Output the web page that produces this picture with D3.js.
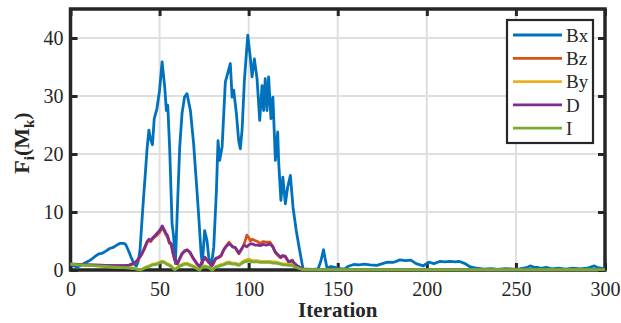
<!DOCTYPE html>
<html>
<head>
<meta charset="utf-8">
<script src="https://cdn.jsdelivr.net/npm/d3@7"></script>
<style>
html,body{margin:0;padding:0;background:#fff;}
svg{display:block;}
svg text{font-family:"Liberation Serif","Times New Roman",serif !important;fill:#262626;}
</style>
</head>
<body>
<svg id="chart" width="621" height="323"></svg>
<script>
// ---- data ----
const seriesNames = ["Bx","Bz","By","D","I"];
const seriesColors = ["#0072BD","#D95319","#EDB120","#7E2F8E","#77AC30"];
const xTicks = [0,50,100,150,200,250,300];
const yTicks = [0,10,20,30,40];

const bxIter = [0,2,4,6,8,10,12,14,16,18,20,22,24,26,28,30,31,32,33,34,35,36,37,38,39,40,41,42,43,44,45,46,47,48.5,50,51.4,52.9,53.8,54.6,55.7,57,57.9,58.9,59.8,61.3,62.6,64,65.4,67.3,69.1,70.7,72,73.3,74,75.3,76.6,77.6,78.9,80.4,81.9,82.8,83.7,85.1,86.9,88.2,89.7,90.7,91.6,93.1,94.4,95.3,96.3,97.6,99.5,100.9,101.9,103.2,104.7,106.2,107.5,108.4,109.3,110.3,111.2,112.5,113.6,115,116.3,116.8,118.1,119.2,120.6,121.9,123.4,124.9,126.7,128.6,130.5,133,136,139,140.5,142,143.2,144,146,148,150,152,154,156,159,162,165,168,172,175,178,181,185,188,191,194,198,201,204,207.5,210,213,216,218,221.5,224,228,232,236,240,244,248,252,256,258,260,262,264,267,270,274,278,282,286,290,294,296,300];
const bxVals = [1.0,0.7,0.5,0.8,1.2,1.5,1.9,2.4,2.8,2.9,3.3,3.7,3.9,4.3,4.6,4.6,4.4,3.7,3.0,2.2,1.5,0.9,0.7,1.5,3.4,8,12.5,16.6,21,24.1,22.5,21.6,26.1,27.8,31,35.9,31.5,27.5,28.4,20.6,8,5.7,1.1,9.1,21.2,27,29.8,30.4,27.5,21.8,14.9,9.1,2.8,1.1,6.8,5.1,2.2,0.5,3.9,13.7,22.3,18.9,21.2,32.4,33.9,35.6,29.8,31,27,22.3,20.9,24.1,32.7,40.5,36.7,33.3,36.4,33,25.8,31.8,27.5,33,27.5,33.3,26.1,29.8,18.9,23.8,18.9,12,16,11.4,14.3,16.3,10.8,6.8,3.4,0.2,0.15,0.1,0.2,1.5,3.5,1.5,0.3,0.6,0.5,0.3,0.2,0.2,0.65,0.95,0.9,1.0,0.9,0.8,1.1,1.35,1.3,1.75,1.6,1.7,1.1,0.7,1.35,1.1,1.5,1.4,1.5,1.4,1.5,1.1,0.6,0.3,0.15,0.25,0.1,0.25,0.15,0.2,0.4,0.7,0.5,0.45,0.3,0.45,0.2,0.3,0.15,0.3,0.2,0.3,0.7,0.4,0.2];

const smallIter = [0,5,10,15,20,25,30,33,35,37,39,40,41.5,43,44,45,46,47,48.5,50,51.5,52.5,53.5,54.5,55.5,56.5,57.5,58.5,60,61,62.5,64,65.5,67,69,71,72.5,74,75.5,77.5,79.5,80.5,81.5,83,84.5,86,87.5,89,90,91,92.5,94.5,96.5,97.5,99,100,101,102,103.5,105,106.5,108,110,112,113.5,115,116.5,118,119,120.5,122.5,124.5,125.5,127,129,131,135,140,150,200,250,300];
const dVals  = [1.0,0.95,0.9,0.85,0.8,0.75,0.75,0.85,1.1,1.5,2.3,2.8,3.8,4.9,5.3,5.1,5.5,5.8,6.3,6.8,7.6,7.0,6.4,5.9,4.8,4.6,3.0,1.8,1.1,1.8,2.8,3.3,3.5,3.1,2.0,1.1,0.6,1.5,2.2,1.4,0.8,1.4,2.0,2.2,2.5,3.5,4.1,4.5,4.3,4.0,3.9,2.9,3.9,4.3,4.0,4.3,4.5,4.5,4.3,4.3,4.2,4.4,4.3,4.5,4.0,3.1,2.6,2.2,2.5,2.4,1.4,1.7,1.2,0.8,0.4,0.1,0.05,0.05,0.05,0.05,0.05,0.05];
const bzVals = [1.0,0.95,0.9,0.85,0.8,0.75,0.75,0.82,1.05,1.4,2.2,2.7,3.6,4.7,5.1,4.9,5.3,5.6,6.0,6.5,7.2,6.8,6.1,5.6,4.6,4.4,2.9,1.7,1.0,1.7,2.7,3.2,3.4,3.0,1.9,1.0,0.55,1.4,2.1,1.3,0.75,1.3,1.9,2.1,2.4,3.4,4.2,4.8,4.4,4.0,3.8,2.8,3.8,4.5,6.0,5.6,5.0,5.3,5.1,4.9,4.6,4.9,4.8,4.8,4.1,3.0,2.5,2.1,2.4,2.3,1.3,1.6,1.1,0.75,0.35,0.1,0.05,0.05,0.05,0.05,0.05,0.05];
const byVals = [1.0,0.9,0.8,0.7,0.6,0.5,0.4,0.35,0.3,0.2,0.05,0.15,0.4,0.6,0.7,0.8,1.0,1.0,1.15,1.35,1.55,1.45,1.25,1.05,0.95,0.7,0.4,0.1,0.4,0.7,0.95,1.15,1.15,0.95,0.7,0.3,0.05,0.6,0.7,0.5,0.05,0.3,0.6,0.75,0.95,1.05,1.3,1.4,1.3,1.2,1.2,0.95,1.4,1.6,1.8,1.9,1.75,1.65,1.6,1.6,1.5,1.5,1.5,1.5,1.4,1.4,1.3,1.15,1.05,1.05,0.95,0.95,0.7,0.5,0.25,0.05,0.05,0.05,0.05,0.05,0.05,0.05];
const iVals  = [1.0,0.9,0.8,0.7,0.6,0.5,0.4,0.35,0.3,0.2,0.0,0.1,0.3,0.5,0.6,0.7,0.9,0.9,1.0,1.2,1.4,1.3,1.1,0.9,0.8,0.6,0.3,0.05,0.3,0.6,0.8,1.0,1.0,0.8,0.6,0.2,0.0,0.5,0.6,0.4,0.0,0.2,0.5,0.6,0.8,0.9,1.1,1.2,1.1,1.0,1.0,0.8,1.2,1.4,1.5,1.6,1.5,1.4,1.4,1.4,1.3,1.3,1.3,1.3,1.2,1.2,1.1,1.0,0.9,0.9,0.8,0.8,0.6,0.4,0.2,0.05,0.05,0.05,0.05,0.05,0.05,0.05];

// ---- layout ----
const FONT = '"Liberation Serif","Times New Roman",serif';
const svg = d3.select("#chart");
const x = d3.scaleLinear().domain([0,300]).range([70.5,605]);
const y = d3.scaleLinear().domain([0,45]).range([270,9]);
const axisColor = "#262626";

// grid
const g = svg.append("g");
g.selectAll("line.gx").data(xTicks).join("line")
  .attr("x1",d=>x(d)).attr("x2",d=>x(d)).attr("y1",y(45)).attr("y2",y(0))
  .attr("stroke","#dfdfdf").attr("stroke-width",2);
g.selectAll("line.gy").data(yTicks).join("line")
  .attr("y1",d=>y(d)).attr("y2",d=>y(d)).attr("x1",x(0)).attr("x2",x(300))
  .attr("stroke","#dfdfdf").attr("stroke-width",2);

// axes
function styleAxis(sel){
  sel.attr("font-family",FONT).attr("font-size",20);
  sel.select(".domain").remove();
  sel.selectAll(".tick line").attr("stroke",axisColor).attr("stroke-width",3);
  sel.selectAll(".tick text").attr("fill",axisColor);
}
svg.append("g").attr("transform",`translate(0,${y(0)})`)
  .call(d3.axisBottom(x).tickValues(xTicks).tickSizeInner(-7).tickSizeOuter(0).tickPadding(12)).call(styleAxis);
svg.append("g").attr("transform",`translate(0,${y(45)})`)
  .call(d3.axisTop(x).tickValues(xTicks).tickSizeInner(-7).tickSizeOuter(0).tickFormat("")).call(styleAxis);
svg.append("g").attr("transform",`translate(${x(0)},0)`)
  .call(d3.axisLeft(y).tickValues(yTicks).tickSizeInner(-7).tickSizeOuter(0).tickPadding(7)).call(styleAxis);
svg.append("g").attr("transform",`translate(${x(300)},0)`)
  .call(d3.axisRight(y).tickValues(yTicks).tickSizeInner(-7).tickSizeOuter(0).tickFormat("")).call(styleAxis);

// frame
svg.append("rect").attr("x",x(0)).attr("y",y(45)).attr("width",x(300)-x(0)).attr("height",y(0)-y(45))
  .attr("fill","none").attr("stroke",axisColor).attr("stroke-width",3.5);

// lines
const allSeries = [
  {iter:bxIter, vals:bxVals},
  {iter:smallIter, vals:bzVals},
  {iter:smallIter, vals:byVals},
  {iter:smallIter, vals:dVals},
  {iter:smallIter, vals:iVals}
];
const line = d3.line().x(d=>x(d[0])).y(d=>y(d[1]));
allSeries.forEach((s,i)=>{
  const pts = s.iter.map((t,k)=>[t,s.vals[k]]);
  svg.append("path").datum(pts).attr("d",line)
    .attr("fill","none").attr("stroke",seriesColors[i]).attr("stroke-width",2.8)
    .attr("stroke-linejoin","round").attr("stroke-linecap","butt");
});

// axis labels
svg.append("text").attr("x",(x(0)+x(300))/2).attr("y",317).attr("text-anchor","middle")
  .style("font-size","21px").style("font-weight","bold").text("Iteration");

const yl = svg.append("text").attr("transform","translate(29,143) rotate(-90)")
  .attr("text-anchor","middle").style("font-size","22px").style("font-weight","bold");
yl.append("tspan").text("F");
yl.append("tspan").attr("dy",5).style("font-size","15px").text("i");
yl.append("tspan").attr("dy",-5).text("(M");
yl.append("tspan").attr("dy",5).style("font-size","15px").text("k");
yl.append("tspan").attr("dy",-5).text(")");

// legend
const lg = svg.append("g");
lg.append("rect").attr("x",507).attr("y",20).attr("width",86).attr("height",123)
  .attr("fill","#fff").attr("stroke",axisColor).attr("stroke-width",2.2);
seriesNames.forEach((n,i)=>{
  const yy = 35 + i*23.3;
  lg.append("line").attr("x1",513).attr("x2",562).attr("y1",yy).attr("y2",yy)
    .attr("stroke",seriesColors[i]).attr("stroke-width",2.8);
  lg.append("text").attr("x",566).attr("y",yy).attr("dy","0.35em")
    .style("font-size","19px").text(n);
});
</script>
</body>
</html>
